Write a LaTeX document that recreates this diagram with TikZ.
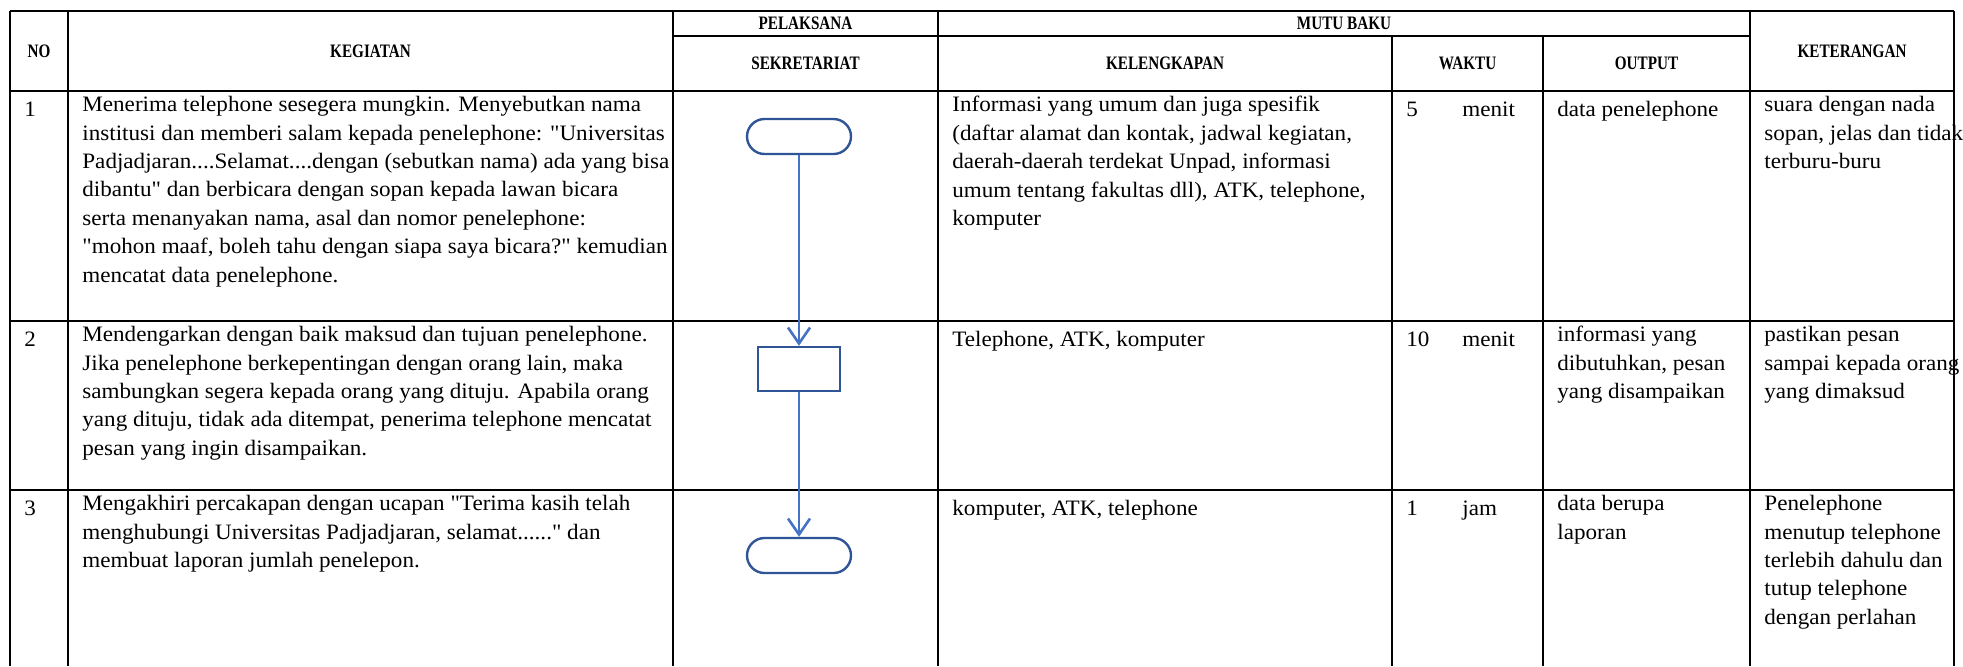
\documentclass[tikz,border=0pt]{standalone}
\usepackage{fontspec}
\newfontfamily\bodyfont[FakeStretch=1.05]{Liberation Serif}
\newfontfamily\headfont[FakeStretch=0.8]{Liberation Serif}
\usetikzlibrary{arrows.meta,shapes.misc}

\definecolor{flowline}{HTML}{4472C4}
\definecolor{flowedge}{HTML}{2F5597}

\begin{document}
\begin{tikzpicture}[x=0.5pt, y=-0.5pt,
    grid/.style={line width=1.1pt},
    head/.style={font=\headfont\bfseries\fontsize{9.5}{11}\selectfont, inner sep=0pt},
    cell/.style={anchor=north west, align=left, inner sep=0pt,
        font=\bodyfont\fontsize{11}{14.2}\selectfont, execute at begin node=\strut},
    terminal/.style={rounded rectangle, draw=flowedge, line width=1.2pt,
        minimum width=52pt, minimum height=17.5pt, inner sep=0pt},
    process/.style={rectangle, draw=flowedge, line width=1.2pt,
        minimum width=41pt, minimum height=22pt, inner sep=0pt},
    flow/.style={draw=flowline, line width=1.3pt, -{Straight Barb[length=8pt,width=11pt]}}]
    \useasboundingbox (0,0) rectangle (1963,666);

    % garis tabel
    \draw[grid] (10,11) -- (1954,11);
    \draw[grid] (673,36) -- (1750,36);
    \draw[grid] (10,91) -- (1954,91);
    \draw[grid] (10,321) -- (1954,321);
    \draw[grid] (10,490) -- (1954,490);
    \foreach \xx in {10,68,673,938,1750,1954}
        \draw[grid] (\xx,11) -- (\xx,666);
    \foreach \xx in {1392,1543}
        \draw[grid] (\xx,36) -- (\xx,666);

    % kepala tabel
    \node[head] (hNo) at (39,51) {NO};
    \node[head] (hKeg) at (370.5,51) {KEGIATAN};
    \node[head] (hPel) at (805.5,23.5) {PELAKSANA};
    \node[head] (hSek) at (805.5,63.5) {SEKRETARIAT};
    \node[head] (hMutu) at (1344,23.5) {MUTU BAKU};
    \node[head] (hKel) at (1165,63.5) {KELENGKAPAN};
    \node[head] (hWaktu) at (1467.5,63.5) {WAKTU};
    \node[head] (hOut) at (1646.5,63.5) {OUTPUT};
    \node[head] (hKet) at (1852,51) {KETERANGAN};

    % baris 1
    \node[cell] (no1) at (24,96) {1};
    \node[cell] (keg1) at (82,96) {Menerima telephone sesegera mungkin. Menyebutkan nama\\
        institusi dan memberi salam kepada penelephone: "Universitas\\
        Padjadjaran....Selamat....dengan (sebutkan nama) ada yang bisa\\
        dibantu" dan berbicara dengan sopan kepada lawan bicara\\
        serta menanyakan nama, asal dan nomor penelephone:\\
        "mohon maaf, boleh tahu dengan siapa saya bicara?" kemudian\\
        mencatat data penelephone.};
    \node[cell] (kel1) at (952,96) {Informasi yang umum dan juga spesifik\\
        (daftar alamat dan kontak, jadwal kegiatan,\\
        daerah-daerah terdekat Unpad, informasi\\
        umum tentang fakultas dll), ATK, telephone,\\
        komputer};
    \node[cell] (wkt1) at (1406,96) {5};
    \node[cell] (sat1) at (1462,96) {menit};
    \node[cell] (out1) at (1557,96) {data penelephone};
    \node[cell] (ket1) at (1764,96) {suara dengan nada\\
        sopan, jelas dan tidak\\
        terburu-buru};

    % baris 2
    \node[cell] (no2) at (24,326) {2};
    \node[cell] (keg2) at (82,326) {Mendengarkan dengan baik maksud dan tujuan penelephone.\\
        Jika penelephone berkepentingan dengan orang lain, maka\\
        sambungkan segera kepada orang yang dituju. Apabila orang\\
        yang dituju, tidak ada ditempat, penerima telephone mencatat\\
        pesan yang ingin disampaikan.};
    \node[cell] (kel2) at (952,326) {Telephone, ATK, komputer};
    \node[cell] (wkt2) at (1406,326) {10};
    \node[cell] (sat2) at (1462,326) {menit};
    \node[cell] (out2) at (1557,326) {informasi yang\\
        dibutuhkan, pesan\\
        yang disampaikan};
    \node[cell] (ket2) at (1764,326) {pastikan pesan\\
        sampai kepada orang\\
        yang dimaksud};

    % baris 3
    \node[cell] (no3) at (24,495) {3};
    \node[cell] (keg3) at (82,495) {Mengakhiri percakapan dengan ucapan "Terima kasih telah\\
        menghubungi Universitas Padjadjaran, selamat......" dan\\
        membuat laporan jumlah penelepon.};
    \node[cell] (kel3) at (952,495) {komputer, ATK, telephone};
    \node[cell] (wkt3) at (1406,495) {1};
    \node[cell] (sat3) at (1462,495) {jam};
    \node[cell] (out3) at (1557,495) {data berupa\\
        laporan};
    \node[cell] (ket3) at (1764,495) {Penelephone\\
        menutup telephone\\
        terlebih dahulu dan\\
        tutup telephone\\
        dengan perlahan};

    % bagan alir
    \node[terminal] (mulai) at (799,136.5) {};
    \node[process] (proses) at (799,369) {};
    \node[terminal] (selesai) at (799,555.5) {};
    \draw[flow] (mulai) -- (proses);
    \draw[flow] (proses) -- (selesai);
\end{tikzpicture}
\end{document}
